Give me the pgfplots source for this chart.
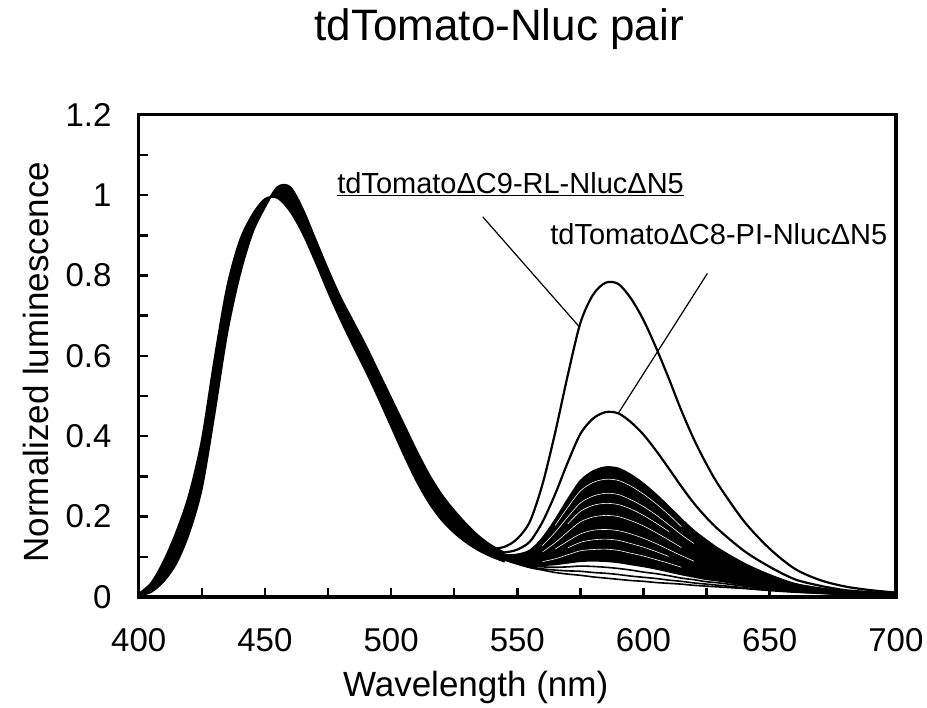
\documentclass[border=0pt]{standalone}
\usepackage{fontspec}
\setmainfont{Liberation Sans}
\usepackage{pgfplots}
\pgfplotsset{compat=1.18}
\usepackage{pgfplotstable}
\usepgfplotslibrary{fillbetween}

% Nluc (blue) band: left/lower edge A and right/upper edge B
\pgfplotstableread{
x A B
400 0.008 0.003
405 0.035 0.013
410 0.090 0.040
415 0.163 0.085
420 0.255 0.160
425 0.390 0.270
430 0.590 0.455
435 0.770 0.655
440 0.885 0.800
445 0.950 0.905
450 0.990 0.970
455 0.993 1.020
460 0.960 1.020
465 0.905 0.965
470 0.835 0.890
475 0.760 0.815
480 0.690 0.745
485 0.625 0.685
490 0.562 0.625
495 0.495 0.560
500 0.425 0.495
505 0.355 0.430
510 0.290 0.365
515 0.235 0.305
520 0.192 0.255
525 0.160 0.215
530 0.135 0.180
535 0.115 0.150
540 0.100 0.127
545 0.088 0.110
}\bluetab

% tdTomato (red) region
\pgfplotstableread{
x top sec btop bbot l30 l15 l03
540 0.120 0.113 0.111 0.106 0.106 0.105 0.105
545 0.125 0.111 0.105 0.094 0.093 0.093 0.092
550 0.145 0.118 0.106 0.086 0.085 0.083 0.082
555 0.188 0.138 0.116 0.080 0.078 0.075 0.073
560 0.281 0.187 0.147 0.079 0.075 0.070 0.067
565 0.409 0.256 0.192 0.081 0.074 0.067 0.061
570 0.552 0.335 0.243 0.085 0.075 0.065 0.057
575 0.682 0.406 0.289 0.089 0.077 0.064 0.054
580 0.752 0.444 0.313 0.090 0.076 0.061 0.050
585 0.782 0.460 0.323 0.089 0.074 0.059 0.047
590 0.779 0.457 0.320 0.086 0.071 0.056 0.044
595 0.743 0.435 0.304 0.081 0.067 0.052 0.041
600 0.689 0.404 0.282 0.076 0.062 0.049 0.039
605 0.620 0.364 0.255 0.070 0.058 0.046 0.036
610 0.544 0.320 0.225 0.063 0.053 0.042 0.034
615 0.464 0.275 0.194 0.056 0.047 0.039 0.032
620 0.392 0.233 0.165 0.050 0.043 0.035 0.029
625 0.330 0.197 0.141 0.044 0.038 0.032 0.027
630 0.276 0.166 0.119 0.040 0.035 0.029 0.025
640 0.187 0.114 0.083 0.030 0.027 0.023 0.021
650 0.120 0.075 0.055 0.022 0.020 0.018 0.016
660 0.070 0.044 0.033 0.015 0.014 0.013 0.012
670 0.042 0.028 0.022 0.011 0.010 0.010 0.009
680 0.026 0.017 0.014 0.007 0.007 0.006 0.006
690 0.017 0.012 0.009 0.005 0.005 0.004 0.004
700 0.011 0.007 0.005 0.003 0.002 0.002 0.002
}\redtab

% gaps between bundle curves
\pgfplotstableread{
x w250 w215 w190 w160 w125 w100 w075
560 0.139 0.128 0.121 0.112 0.102 0.095 0.088
565 0.178 0.161 0.149 0.135 0.119 0.107 0.095
570 0.223 0.199 0.182 0.162 0.139 0.122 0.105
575 0.264 0.234 0.213 0.187 0.157 0.136 0.115
580 0.285 0.251 0.228 0.199 0.166 0.142 0.118
585 0.293 0.258 0.233 0.203 0.168 0.144 0.119
590 0.290 0.255 0.230 0.200 0.165 0.141 0.116
595 0.276 0.242 0.219 0.190 0.157 0.133 0.109
600 0.256 0.225 0.203 0.177 0.146 0.124 0.102
605 0.232 0.204 0.184 0.160 0.133 0.113 0.093
610 0.205 0.180 0.163 0.142 0.118 0.101 0.084
615 0.175 0.155 0.140 0.123 0.103 0.088 0.074
620 0.151 0.133 0.121 0.106 0.089 0.077 0.065
}\whitetab

\begin{document}
\begin{tikzpicture}
\begin{axis}[
  at={(0,0)}, anchor=south west,
  scale only axis, width=757.2bp, height=482.3bp,
  xmin=400, xmax=700, ymin=0, ymax=1.2,
  xtick={400,450,500,550,600,650,700},
  ytick={0,0.2,0.4,0.6,0.8,1,1.2},
  minor x tick num=1, minor y tick num=1,
  tick align=inside, xtick pos=bottom, ytick pos=left,
  major tick length=9bp, minor tick length=9bp,
  tick style={black, line width=2.5bp},
  axis line style={line width=3.5bp},
  clip=false,
  /pgf/number format/assume math mode=true,
  tick label style={font=\fontsize{33bp}{40bp}\selectfont},
  xticklabel style={inner sep=0pt, yshift=-31bp},
  yticklabel style={inner sep=0pt, xshift=-27bp},
  xlabel={Wavelength (nm)},
  ylabel={Normalized luminescence},
  title={tdTomato-Nluc pair},
  xlabel style={at={(axis description cs:0.445,-0.2073)}, anchor=base, font=\fontsize{35bp}{42bp}\selectfont},
  ylabel style={at={(axis description cs:-0.1189,0.487)}, anchor=base, font=\fontsize{35bp}{42bp}\selectfont},
  title style={at={(axis description cs:0.476,1.141)}, anchor=base, font=\fontsize{44bp}{52bp}\selectfont},
]
% blue band
\addplot[name path=A, black, line width=2bp, smooth] table[x=x,y=A]{\bluetab};
\addplot[name path=B, black, line width=2bp, smooth] table[x=x,y=B]{\bluetab};
\addplot[black] fill between[of=A and B];
% red bundle
\addplot[name path=btop, black, line width=1.8bp, smooth] table[x=x,y=btop]{\redtab};
\addplot[name path=bbot, black, line width=1.6bp, smooth] table[x=x,y=bbot]{\redtab};
\addplot[black] fill between[of=btop and bbot];
\addplot[white, line width=0.6bp, smooth, restrict x to domain=565:615] table[x=x,y=w250]{\whitetab};
\addplot[white, line width=0.6bp, smooth, restrict x to domain=560:620] table[x=x,y=w215]{\whitetab};
\addplot[white, line width=0.6bp, smooth, restrict x to domain=570:610] table[x=x,y=w190]{\whitetab};
\addplot[white, line width=0.6bp, smooth, restrict x to domain=560:615] table[x=x,y=w160]{\whitetab};
\addplot[white, line width=0.6bp, smooth, restrict x to domain=565:620] table[x=x,y=w125]{\whitetab};
\addplot[white, line width=0.6bp, smooth, restrict x to domain=570:610] table[x=x,y=w100]{\whitetab};
\addplot[white, line width=0.6bp, smooth, restrict x to domain=560:615] table[x=x,y=w075]{\whitetab};
\addplot[black, line width=1.6bp, smooth] table[x=x,y=l30]{\redtab};
\addplot[black, line width=1.6bp, smooth] table[x=x,y=l15]{\redtab};
\addplot[black, line width=1.6bp, smooth] table[x=x,y=l03]{\redtab};
\addplot[black, line width=2.2bp, smooth] table[x=x,y=sec]{\redtab};
\addplot[black, line width=2.2bp, smooth] table[x=x,y=top]{\redtab};
% annotations
\draw[line width=1.2bp] (axis cs:536.3,0.946) -- (axis cs:574.6,0.672);
\draw[line width=1.2bp] (axis cs:625.3,0.805) -- (axis cs:590,0.457);
\node[anchor=base west, inner sep=0pt, font=\fontsize{29bp}{35bp}\selectfont] at (axis cs:478.6,1.004) {\underline{tdTomatoΔC9-RL-NlucΔN5}};
\node[anchor=base west, inner sep=0pt, font=\fontsize{29bp}{35bp}\selectfont] at (axis cs:563,0.876) {tdTomatoΔC8-PI-NlucΔN5};
\end{axis}
\path (-138.7bp,-108bp) rectangle (788.3bp,597bp);
\end{tikzpicture}
\end{document}
